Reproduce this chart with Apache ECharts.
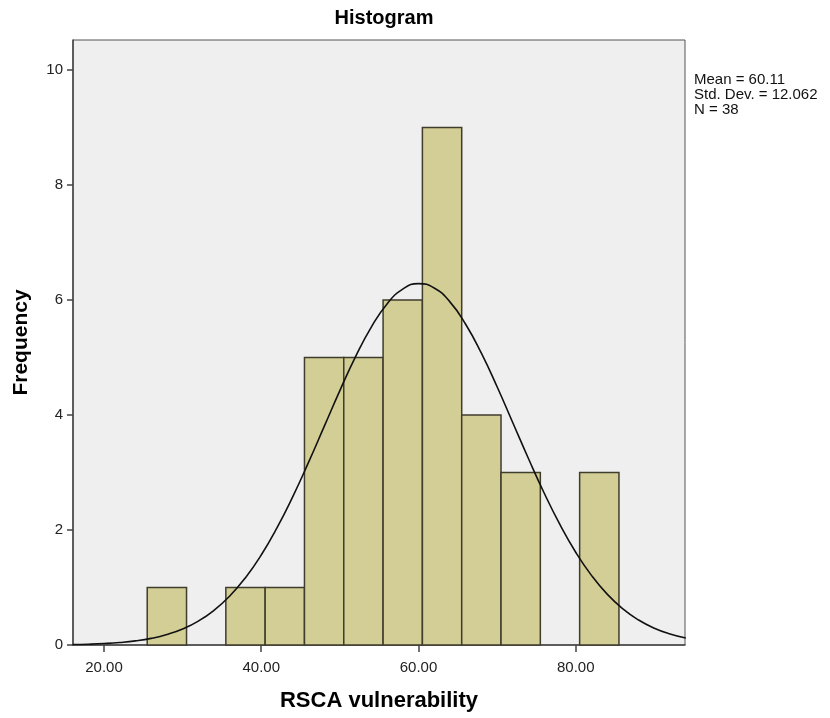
<!DOCTYPE html>
<html>
<head>
<meta charset="utf-8">
<script src="https://cdn.jsdelivr.net/npm/echarts@6/dist/echarts.min.js"></script>
<style>html,body{margin:0;padding:0;background:#fff;}#c{width:830px;height:718px;}</style>
</head>
<body>
<div id="c"></div>
<script>
// Histogram bins (RSCA vulnerability)
const binStarts = [25.5, 30.5, 35.5, 40.5, 45.5, 50.5, 55.5, 60.5, 65.5, 70.5, 75.5, 80.5];
const binEnds   = [30.5, 35.5, 40.5, 45.5, 50.5, 55.5, 60.5, 65.5, 70.5, 75.5, 80.5, 85.5];
const counts    = [1, 0, 1, 1, 5, 5, 6, 9, 4, 3, 0, 3];
// Normal curve
const curveX = [16,18,20,22,24,26,28,30,32,34,36,38,40,42,44,46,48,50,52,54,56,58,60,62,64,66,68,70,72,74,76,78,80,82,84,86,88,90,92,94];
const curveY = [0.008,0.014,0.025,0.043,0.071,0.115,0.182,0.279,0.416,0.604,0.852,1.171,1.565,2.036,2.576,3.170,3.796,4.423,5.013,5.527,5.930,6.189,6.284,6.207,5.966,5.578,5.074,4.490,3.865,3.238,2.639,2.092,1.613,1.211,0.884,0.628,0.434,0.292,0.191,0.121];
const xTicks = [20, 40, 60, 80];
const yTicks = [0, 2, 4, 6, 8, 10];
const statsLines = ['Mean = 60.11', 'Std. Dev. = 12.062', 'N = 38'];

const chart = echarts.init(document.getElementById('c'), null, {renderer: 'canvas'});
const barData = binStarts.map((s, i) => [s, binEnds[i], counts[i]]).filter(d => d[2] > 0);
const font = 'Arial, "Liberation Sans", Helvetica, sans-serif';

chart.setOption({
  animation: false,
  backgroundColor: '#ffffff',
  title: {
    text: 'Histogram', left: 379, top: 3, textAlign: 'center',
    textStyle: {fontFamily: font, fontSize: 20, fontWeight: 'bold', color: '#000'}
  },
  graphic: [{
    type: 'text', left: 694, top: 72,
    style: {text: statsLines.join('\n'), fontFamily: font, fontSize: 15, lineHeight: 15, fill: '#111'}
  }],
  grid: {
    left: 73, top: 40, right: 145, bottom: 73,
    containLabel: false, outerBoundsMode: 'none',
    show: true, backgroundColor: '#EFEFEF', borderColor: '#555', borderWidth: 1
  },
  xAxis: {
    type: 'value', min: 16.06, max: 93.9, interval: 20,
    name: 'RSCA vulnerability', nameLocation: 'middle', nameGap: 45,
    nameTextStyle: {fontFamily: font, fontSize: 22, fontWeight: 'bold', color: '#000'},
    axisLine: {show: true, onZero: false, lineStyle: {color: '#444', width: 1.5}},
    axisTick: {show: true, length: 7, lineStyle: {color: '#444', width: 1.5},
      customValues: xTicks},
    axisLabel: {fontFamily: font, fontSize: 15, color: '#222', margin: 15,
      customValues: xTicks, formatter: v => v.toFixed(2)},
    splitLine: {show: false}
  },
  yAxis: {
    type: 'value', min: 0, max: 10.52,
    name: 'Frequency', nameLocation: 'middle', nameGap: 41,
    nameTextStyle: {fontFamily: font, fontSize: 21, fontWeight: 'bold', color: '#000'},
    axisLine: {show: true, lineStyle: {color: '#444', width: 1.5}},
    axisTick: {show: true, length: 6, lineStyle: {color: '#444', width: 1.5},
      customValues: yTicks},
    axisLabel: {fontFamily: font, fontSize: 15, color: '#222', margin: 10,
      customValues: yTicks},
    splitLine: {show: false}
  },
  series: [{
    type: 'custom',
    data: barData,
    encode: {x: [0, 1], y: 2},
    renderItem: function (params, api) {
      const p0 = api.coord([api.value(0), api.value(2)]);
      const p1 = api.coord([api.value(1), 0]);
      return {
        type: 'rect',
        shape: {x: p0[0], y: p0[1], width: p1[0] - p0[0], height: p1[1] - p0[1]},
        style: {fill: '#D3CE96', stroke: '#3f3d2c', lineWidth: 1.5}
      };
    },
    z: 2
  }, {
    type: 'line',
    data: curveX.map((x, i) => [x, curveY[i]]),
    smooth: true, showSymbol: false, symbol: 'none',
    lineStyle: {color: '#111', width: 1.6},
    z: 3, clip: true
  }]
});
</script>
</body>
</html>
